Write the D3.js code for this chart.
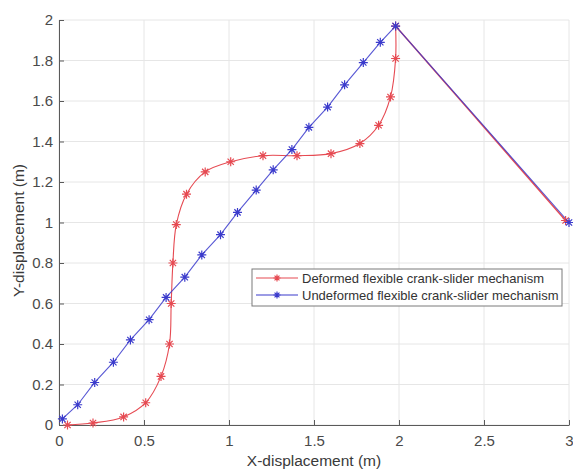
<!DOCTYPE html>
<html>
<head>
<meta charset="utf-8">
<script src="https://cdn.jsdelivr.net/npm/d3@7"></script>
<style>
body{margin:0;background:#fff;}
svg text{font-family:"Liberation Sans",Arial,sans-serif;}
</style>
</head>
<body>
<div class="main"></div>
<script>
// deformed mechanism (red)
var redX=[0.05,0.20,0.38,0.51,0.60,0.65,0.66,0.67,0.69,0.75,0.86,1.01,1.20,1.40,1.60,1.77,1.88,1.95,1.98,1.98,2.98];
var redY=[0.00,0.01,0.04,0.11,0.24,0.40,0.60,0.80,0.99,1.14,1.25,1.30,1.33,1.33,1.34,1.39,1.48,1.62,1.81,1.97,1.01];
// undeformed mechanism (blue)
var blueX=[0.02,0.11,0.21,0.32,0.42,0.53,0.63,0.74,0.84,0.95,1.05,1.16,1.26,1.37,1.47,1.58,1.68,1.79,1.89,1.98,3.0];
var blueY=[0.03,0.10,0.21,0.31,0.42,0.52,0.63,0.73,0.84,0.94,1.05,1.16,1.26,1.36,1.47,1.57,1.68,1.79,1.89,1.97,1.0];
var xTicks=[0,0.5,1,1.5,2,2.5,3];
var yTicks=[0,0.2,0.4,0.6,0.8,1,1.2,1.4,1.6,1.8,2];
var legendLabels=['Deformed flexible crank-slider mechanism','Undeformed flexible crank-slider mechanism'];

var margin={top:20,right:4,bottom:45,left:59};
var W=573,H=470;
var width=W-margin.left-margin.right;
var height=H-margin.top-margin.bottom;

var svg=d3.select('.main').append('svg')
    .attr('width',W).attr('height',H);
var g=svg.append('g').attr('transform','translate('+margin.left+','+margin.top+')');

var x=d3.scaleLinear().domain([0,3]).range([0,width]);
var y=d3.scaleLinear().domain([0,2]).range([height,0]);

// grid
g.append('g').selectAll('line').data(xTicks).enter().append('line')
    .attr('x1',d=>x(d)).attr('x2',d=>x(d)).attr('y1',0).attr('y2',height)
    .attr('stroke','#e6e6e6').attr('stroke-width',1);
g.append('g').selectAll('line').data(yTicks).enter().append('line')
    .attr('y1',d=>y(d)).attr('y2',d=>y(d)).attr('x1',0).attr('x2',width)
    .attr('stroke','#e6e6e6').attr('stroke-width',1);

// axes
var xAxis=d3.axisBottom(x).tickValues(xTicks).tickSizeInner(-5).tickSizeOuter(0).tickPadding(10).tickFormat(d3.format('~g'));
var yAxis=d3.axisLeft(y).tickValues(yTicks).tickSizeInner(-5).tickSizeOuter(0).tickPadding(6).tickFormat(d3.format('~g'));
var xg=g.append('g').attr('transform','translate(0,'+height+')').call(xAxis);
var yg=g.append('g').call(yAxis);
[xg,yg].forEach(function(a){
  a.select('.domain').attr('stroke','#5a5a5a');
  a.selectAll('.tick line').attr('stroke','#5a5a5a');
  a.selectAll('.tick text').attr('fill','#4a4a4a').style('font-size','15px');
});

// series
function pts(xs,ys){return xs.map(function(v,i){return [v,ys[i]];});}
var red=pts(redX,redY), blue=pts(blueX,blueY);
var curve=d3.line().x(d=>x(d[0])).y(d=>y(d[1])).curve(d3.curveCatmullRom.alpha(0.5));
var straight=d3.line().x(d=>x(d[0])).y(d=>y(d[1]));

var redCol='#e64a52', blueCol='#3b3bcc';
g.append('path').attr('d',curve(red.slice(0,20))).attr('fill','none').attr('stroke',redCol).attr('stroke-width',1.1);
g.append('path').attr('d',straight(red.slice(19))).attr('fill','none').attr('stroke',redCol).attr('stroke-width',1.4);
g.append('path').attr('d',straight(blue)).attr('fill','none').attr('stroke',blueCol).attr('stroke-width',1.1).attr('stroke-opacity',0.85);

function star(s){
  var a=s*0.7;
  return 'M'+(-s)+',0L'+s+',0M0,'+(-s)+'L0,'+s+'M'+(-a)+','+(-a)+'L'+a+','+a+'M'+(-a)+','+a+'L'+a+','+(-a);
}
function markers(data,col){
  g.append('g').selectAll('path').data(data).enter().append('path')
    .attr('d',star(4.5)).attr('transform',d=>'translate('+x(d[0])+','+y(d[1])+')')
    .attr('fill','none').attr('stroke',col).attr('stroke-width',1.2);
}
markers(red,redCol);
markers(blue,blueCol);

// axis labels
svg.append('text').attr('x',margin.left+width/2).attr('y',466).attr('text-anchor','middle')
  .attr('fill','#3a3a3a').style('font-size','15.5px').text('X-displacement (m)');
svg.append('text').attr('transform','translate(24,'+(margin.top+height/2+8)+') rotate(-90)')
  .attr('text-anchor','middle').attr('fill','#3a3a3a').style('font-size','15.5px').text('Y-displacement (m)');

// legend
var lg=svg.append('g').attr('transform','translate(252,269)');
lg.append('rect').attr('width',310).attr('height',37).attr('fill','#fff').attr('stroke','#7a7a7a').attr('stroke-width',1);
var cols=[redCol,blueCol];
legendLabels.forEach(function(t,i){
  var yy=9+i*17;
  lg.append('line').attr('x1',4).attr('x2',46).attr('y1',yy).attr('y2',yy).attr('stroke',cols[i]).attr('stroke-width',1.1);
  lg.append('path').attr('d',star(3.5)).attr('transform','translate(25,'+yy+')').attr('fill','none').attr('stroke',cols[i]).attr('stroke-width',1.2);
  lg.append('text').attr('x',50).attr('y',yy+4.5).attr('fill','#333').style('font-size','13px').text(t);
});
</script>
</body>
</html>
